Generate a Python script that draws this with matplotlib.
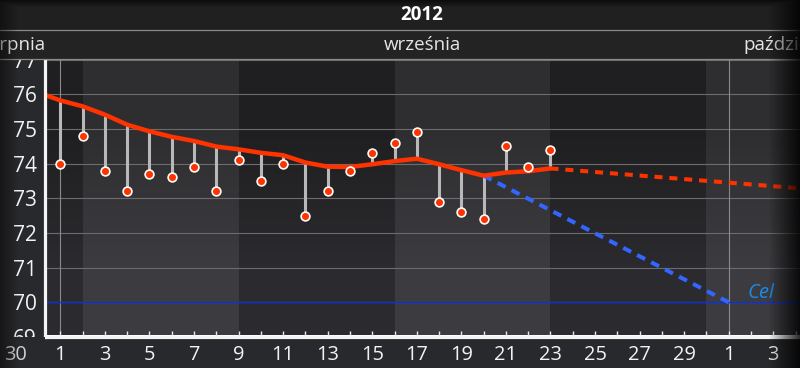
import numpy as np
import matplotlib.pyplot as plt
from matplotlib.colors import LinearSegmentedColormap
from matplotlib.patches import Rectangle
from matplotlib.lines import Line2D

plt.rcParams['font.family'] = ['Open Sans', 'DejaVu Sans']

# data: day of September 2012 (Aug 31 = 0, Oct 1 = 31)
days = np.arange(1, 24)
weights = [74.0, 74.8, 73.8, 73.2, 73.7, 73.6, 73.9, 73.2, 74.1, 73.5, 74.0, 72.5,
           73.2, 73.8, 74.3, 74.6, 74.9, 72.9, 72.6, 72.4, 74.5, 73.9, 74.4]
trend_days = np.arange(0, 24)
trend = [76.05, 75.82, 75.65, 75.41, 75.12, 74.93, 74.77, 74.65, 74.49, 74.41, 74.31, 74.24,
         74.03, 73.91, 73.90, 73.98, 74.07, 74.14, 73.98, 73.81, 73.65, 73.74, 73.78, 73.86]
forecast_days = [23, 34.5]
forecast = [73.86, 73.27]
goal_days = [20, 31]
goal_path = [73.65, 70.0]
goal = 70.0
week_starts = [2, 9, 16, 23, 30]
month_starts = [1, 31]

W, H = 800, 368
BG = '#28292c'
RED = '#ff3300'

fig = plt.figure(figsize=(W / 100, H / 100), dpi=100, facecolor=BG)

# plot area in pixels: x 45..800, y 59.5..337
ax = fig.add_axes([45 / W, (H - 337) / H, 755 / W, (337 - 59.5) / H])
xlim = (0.31, 34.2)
ylim = (69.066, 76.994)

# week bands with a soft vertical gradient
dark = LinearSegmentedColormap.from_list('dark', ['#2b2b2f', '#1f1f21'])
light = LinearSegmentedColormap.from_list('light', ['#3c3c40', '#2e2e31'])
edges = [xlim[0]] + week_starts + [xlim[1]]
grad = np.array([[1.0], [0.0]])
for i in range(len(edges) - 1):
    cmap = dark if i % 2 == 0 else light
    ax.imshow(grad, cmap=cmap, extent=(edges[i], edges[i + 1], ylim[0], ylim[1]),
              aspect='auto', interpolation='bilinear', origin='upper', zorder=0)

for v in range(69, 78):
    ax.axhline(v, color='#6c6c6e', lw=0.8, zorder=1)
for m in month_starts:
    ax.axvline(m, color='#8a8a8a', lw=0.8, zorder=1)
ax.axhline(goal, color='#0b2fd8', lw=1.0, zorder=1)

# stems from trend to weighing
trend_at = np.interp(days, trend_days, trend)
ax.vlines(days, weights, trend_at, color='#b8b8b8', lw=2.2, zorder=2)

ax.plot(goal_days, goal_path, color='#3366ff', lw=2.9, dashes=(2.2, 1.7), zorder=3)
ax.plot(forecast_days, forecast, color=RED, lw=2.9, dashes=(2.0, 1.7), zorder=3)
ax.plot(trend_days, trend, color=RED, lw=3.2, solid_capstyle='round',
        solid_joinstyle='round', zorder=4)
ax.plot(days, weights, 'o', ms=6.3, mfc=RED, mec='white', mew=1.2, zorder=5)

ax.text(32.45, goal + 0.12, 'Cel', color='#1a8ae6', fontsize=14.5, style='italic',
        ha='center', va='baseline', zorder=6)

ax.set_xlim(*xlim)
ax.set_ylim(*ylim)

tick_days = np.arange(1, 35)
ax.set_xticks(tick_days)
ax.set_xticklabels([str(d if d <= 30 else d - 30) if d % 2 == 1 else '' for d in tick_days])
ax.set_yticks(range(69, 78))
ax.tick_params(axis='x', direction='in', length=4, width=1, color='#e8e8e8',
               labelsize=14.4, labelcolor='#f2f2f2', pad=6)
ax.tick_params(axis='y', length=0, labelsize=15, labelcolor='#f2f2f2', pad=6)
for s in ['top', 'right']:
    ax.spines[s].set_visible(False)
for s in ['left', 'bottom']:
    ax.spines[s].set_color('#f4f4f4')
    ax.spines[s].set_linewidth(2.3)
    ax.spines[s].set_zorder(6)

# covers that clip the partial 77 / 69 labels, plus the header
fig.add_artist(Rectangle((0, 0), 45 / W, 31 / H, transform=fig.transFigure,
                         facecolor=BG, edgecolor='none', zorder=3))
fig.add_artist(Rectangle((0, (H - 29.5) / H), 1, 29.5 / H, transform=fig.transFigure,
                         facecolor='#202020', edgecolor='none', zorder=3))
fig.add_artist(Rectangle((0, (H - 59) / H), 1, 29.5 / H, transform=fig.transFigure,
                         facecolor='#232323', edgecolor='none', zorder=3))
for yp in [29.7, 59.3]:
    fig.add_artist(Line2D([0, 1], [(H - yp) / H] * 2, transform=fig.transFigure,
                          color='#8a8a8a', lw=0.9, zorder=4))

fig.text(422 / W, 1 - 15 / H, '2012', color='white', fontsize=13.5, weight='bold',
         ha='center', va='center', zorder=5)
fig.text(422 / W, 1 - 44.5 / H, 'września', color='#e6e6e6', fontsize=13.5,
         ha='center', va='center', zorder=5)
fig.text(45 / W, 1 - 44.5 / H, 'sierpnia', color='#e6e6e6', fontsize=13.5,
         ha='right', va='center', zorder=5)
fig.text(743 / W, 1 - 44.5 / H, 'października', color='#e6e6e6', fontsize=13.5,
         ha='left', va='center', zorder=5)
fig.text(16 / W, 1 - 355 / H, '30', color='#cfcfcf', fontsize=14.4,
         ha='center', va='center', zorder=5)

# edge fades and top shadow
ov = fig.add_axes([0, 0, 1, 1], zorder=10)
xs = np.arange(W)
ys = np.arange(H)
a_right = np.clip((xs - 768) / 32, 0, 1) * 0.85
a_left = np.clip((18 - xs) / 18, 0, 1) * 0.45
a_top = np.clip((7 - ys) / 7, 0, 1) * 0.6
alpha = np.maximum(np.maximum(a_right, a_left)[None, :], a_top[:, None])
rgba = np.zeros((H, W, 4))
rgba[..., 3] = alpha
ov.imshow(rgba, extent=(0, 1, 0, 1), aspect='auto', interpolation='bilinear')
ov.set_xlim(0, 1)
ov.set_ylim(0, 1)
ov.axis('off')

fig.savefig('out.png', dpi=100, facecolor=BG)
